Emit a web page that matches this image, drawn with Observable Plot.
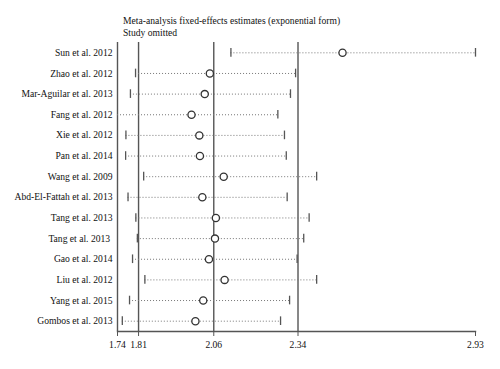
<!DOCTYPE html>
<html><head><meta charset="utf-8">
<script src="https://cdn.jsdelivr.net/npm/d3@7"></script>
<script src="https://cdn.jsdelivr.net/npm/@observablehq/plot@0.6"></script>
<style>
body{margin:0;background:#fff;}
#wrap{position:relative;width:500px;height:369px;}
#title{position:absolute;left:123px;top:15px;font-family:"Liberation Serif",serif;font-size:9.6px;line-height:11.5px;color:#111;}
</style></head>
<body><div id="wrap"><div id="title">Meta-analysis fixed-effects estimates (exponential form)<br>Study omitted</div></div>
<script>
const studies = ["Sun et al. 2012","Zhao et al. 2012","Mar-Aguilar et al. 2013","Fang et al. 2012","Xie et al. 2012","Pan et al. 2014","Wang et al. 2009","Abd-El-Fattah et al. 2013","Tang et al. 2013","Tang et al. 2013 ","Gao et al. 2014","Liu et al. 2012","Yang et al. 2015","Gombos et al. 2013"];
const estimate = [2.488,2.047,2.030,1.986,2.012,2.014,2.093,2.022,2.067,2.064,2.044,2.096,2.025,1.999];
const lower = [2.117,1.800,1.783,1.730,1.768,1.767,1.827,1.775,1.801,1.806,1.790,1.831,1.780,1.756];
const upper = [2.930,2.332,2.315,2.273,2.295,2.301,2.402,2.304,2.377,2.359,2.337,2.402,2.312,2.282];
const refLines = [1.74,1.81,2.06,2.34];
const xTicks = [1.74,1.81,2.06,2.34,2.93];
const xMin = 1.74, xMax = 2.93;

const data = studies.map((s,i)=>({study:s, est:estimate[i], lo:lower[i], hi:upper[i]}));
const ends = data.flatMap(d=>[{study:d.study,x:d.lo},{study:d.study,x:d.hi}]).filter(e=>e.x>=xMin && e.x<=xMax);

const chart = Plot.plot({
  width:500, height:369,
  marginLeft:117, marginRight:25, marginTop:42, marginBottom:38,
  style:{fontFamily:"'Liberation Serif', serif", fontSize:"9.6px", color:"#111", background:"transparent"},
  x:{domain:[xMin,xMax], ticks:xTicks, tickFormat:d=>d.toFixed(2)},
  y:{type:"band", domain:studies, paddingInner:0, paddingOuter:0, round:false},
  marks:[
    Plot.ruleX(refLines,{stroke:"#555", strokeWidth:1.4}),
    Plot.frame({anchor:"bottom", stroke:"#555", strokeWidth:1.4}),
    Plot.ruleY(data,{y:"study", x1:d=>Math.max(d.lo,xMin), x2:d=>Math.min(d.hi,xMax), stroke:"#777", strokeWidth:1, strokeDasharray:"1,2"}),
    Plot.tickX(ends,{x:"x", y:"study", stroke:"#555", strokeWidth:1.3, insetTop:6, insetBottom:6}),
    Plot.dot(data,{x:"est", y:"study", r:3.6, stroke:"#333", strokeWidth:1.3, fill:"white"}),
    Plot.axisX({ticks:xTicks, tickFormat:d=>d.toFixed(2), tickSize:5, tickPadding:5, stroke:"#555", fontSize:9.6, label:null}),
    Plot.axisY({tickSize:0, tickPadding:5, fontSize:9.6, label:null})
  ]
});
document.getElementById("wrap").prepend(chart);
chart.style.position="absolute"; chart.style.left="0"; chart.style.top="0";
</script></body></html>
